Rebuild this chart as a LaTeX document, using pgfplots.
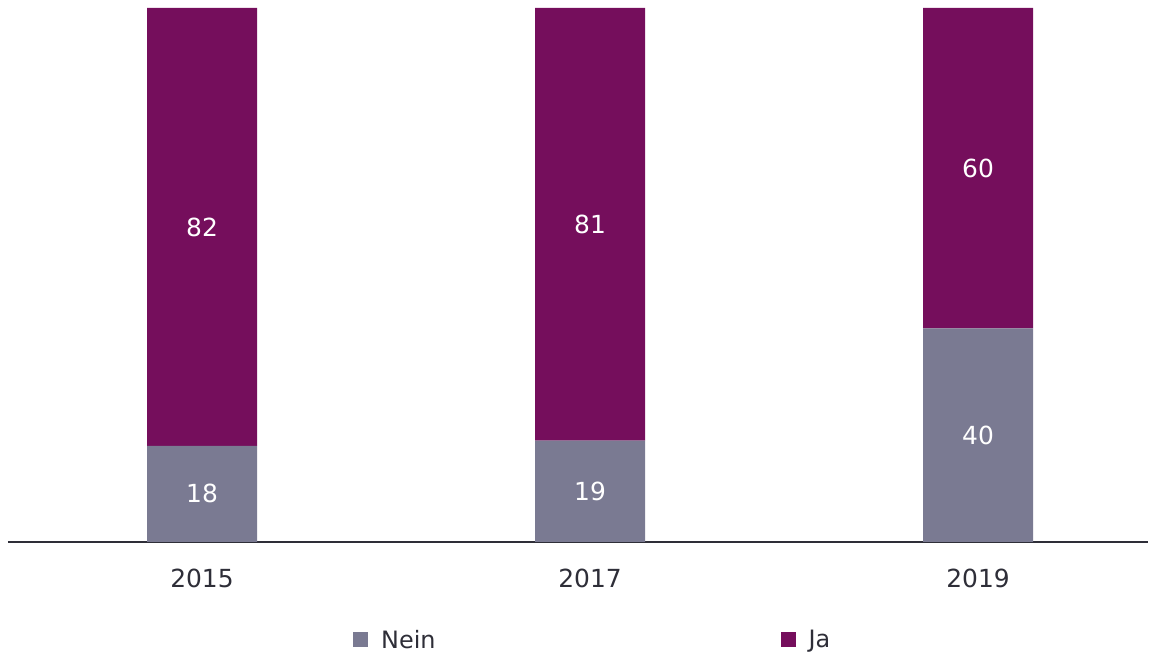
\documentclass[border=0pt]{standalone}
\usepackage{pgfplots}
\pgfplotsset{compat=1.18}
\usepackage{fontspec}
\setmainfont{DejaVu Sans}
\definecolor{nein}{HTML}{7A7A92}
\definecolor{ja}{HTML}{750E5C}
\definecolor{txt}{HTML}{2E2E38}
\begin{document}
\begin{tikzpicture}
\begin{axis}[
  scale only axis, width=1140bp, height=534bp,
  xmin=-0.5, xmax=2.438, ymin=0, ymax=100,
  clip=false,
  ybar stacked, bar width=110bp,
  axis x line*=bottom, axis y line=none,
  x axis line style={draw=txt, line width=1.6bp, -},
  xtick={0,1,2}, xticklabels={2015,2017,2019},
  major tick length=0pt,
  /pgf/number format/assume math mode=true,
  xticklabel style={font=\fontsize{25}{30}\selectfont, text=txt, anchor=center, yshift=-36bp},
  nodes near coords,
  every node near coord/.append style={font=\fontsize{25}{30}\selectfont, text=white, anchor=center},
  legend columns=2,
  legend style={at={(345/1140,-98/534)}, anchor=west, draw=none, fill=none, inner sep=0pt,
    font=\fontsize{24}{29}\selectfont, text=txt,
    nodes={inner sep=0pt},
    /tikz/every odd column/.append style={column sep=13bp},
    /tikz/every even column/.append style={column sep=345bp}},
  legend image code/.code={\fill[#1] (0bp,-7.5bp) rectangle (15bp,7.5bp);},
]
\addplot[draw=none, fill=nein] coordinates {(0,18) (1,19) (2,40)};
\addlegendentry{Nein}
\addplot[draw=none, fill=ja] coordinates {(0,82) (1,81) (2,60)};
\addlegendentry{Ja}
\end{axis}
\pgfresetboundingbox
\path[use as bounding box] ([shift={(-8bp,-112bp)}]current axis.south west) rectangle ([shift={(9bp,8bp)}]current axis.north east);
\end{tikzpicture}
\end{document}
